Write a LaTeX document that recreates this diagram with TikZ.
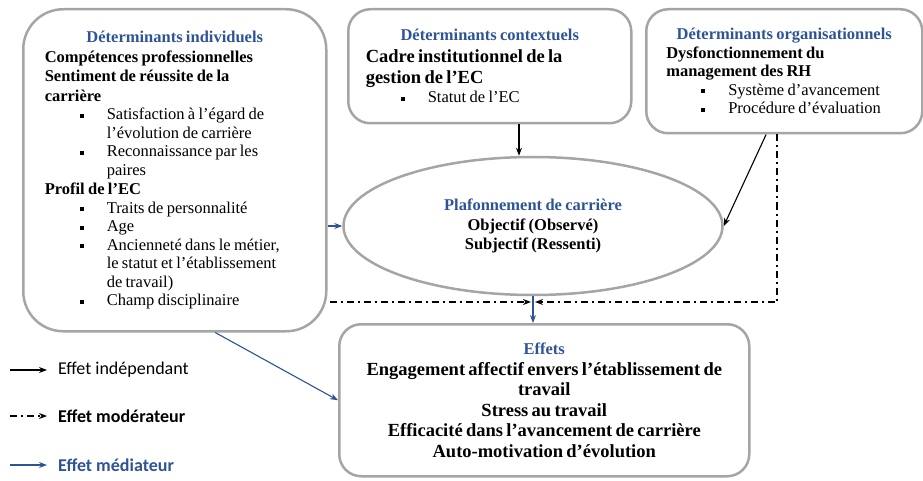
\documentclass[tikz,border=0pt]{standalone}
\usepackage{fontspec}
\setmainfont{Liberation Serif}
\newfontfamily\calibri{Carlito}
\usepackage{xcolor}
\usepackage{tikz}
\usetikzlibrary{shapes.geometric, positioning, arrows.meta}
\setlength{\parindent}{0pt}
\definecolor{bleu}{RGB}{47,84,150}
\definecolor{gris}{RGB}{165,165,165}
\newcommand{\titre}{\fontsize{16.5}{19}\selectfont\bfseries\color{bleu}}
\newcommand{\puce}{\hangindent=62pt\hangafter=1\noindent\hspace*{35pt}\makebox[27pt][l]{\rule[2pt]{4pt}{4pt}}}
\tikzstyle{boite} = [rectangle, rounded corners=22pt, draw=gris, line width=2.5pt, anchor=north west, align=left]
\tikzstyle{plafond} = [ellipse, draw=gris, line width=2.5pt, minimum width=379pt, minimum height=138pt, inner sep=0pt, align=center, text width=210pt]
\tikzstyle{independant} = [-{Stealth[length=8pt, width=6pt]}, line width=1.1pt, draw=black]
\tikzstyle{moderateur} = [-{Stealth[length=8pt, width=6pt]}, line width=1.4pt, dash pattern=on 7pt off 4pt on 2pt off 4pt]
\tikzstyle{mediateur} = [-{Stealth[length=8pt, width=6pt]}, line width=1.1pt, draw=bleu, fill=bleu]
\tikzstyle{legende} = [font=\calibri\fontsize{18}{21}\selectfont, inner sep=0pt]

\begin{document}
\begin{tikzpicture}[x=1pt, y=-1pt]
	\useasboundingbox (0,0) rectangle (923,481);
	\node (Individuels)[boite, rounded corners=40pt, minimum width=303pt, minimum height=322pt, text width=260pt] at (22,8) {%
		{\titre\centering Déterminants individuels\par}
		{\fontsize{16.5}{19.5}\selectfont\bfseries Compétences professionnelles\par
		Sentiment de réussite de la\newline carrière\par}
		{\fontsize{16.5}{18.5}\selectfont\puce Satisfaction à l’égard de\newline l’évolution de carrière\par
		\puce Reconnaissance par les\newline paires\par}
		{\fontsize{16.5}{19.5}\selectfont\bfseries Profil de l’EC\par}
		{\fontsize{16.5}{18.5}\selectfont\puce Traits de personnalité\par
		\puce Age\par
		\puce Ancienneté dans le métier,\newline le statut et l’établissement\newline de travail)\par
		\puce Champ disciplinaire\par}};
	\node (Contextuels)[boite, minimum width=283pt, minimum height=114pt, text width=248pt] at (347,8) {%
		{\titre\centering Déterminants contextuels\par}
		{\fontsize{18.5}{21.5}\selectfont\bfseries Cadre institutionnel de la\newline gestion de l’EC\par}
		{\fontsize{16.5}{19}\selectfont\puce Statut de l’EC\par}};
	\node (Organisationnels)[boite, minimum width=276pt, minimum height=124pt, text width=236pt] at (645,8) {%
		{\titre\centering Déterminants organisationnels\par}
		{\fontsize{16.5}{18.5}\selectfont\bfseries Dysfonctionnement du\newline management des RH\par}
		{\fontsize{16.5}{18.5}\selectfont\puce Système d’avancement\par
		\puce Procédure d’évaluation\par}};
	\node (Plafonnement)[plafond] at (533,226) {%
		{\titre Plafonnement de carrière\par}
		{\fontsize{16.5}{19.5}\selectfont\bfseries Objectif (Observé)\\
		Subjectif (Ressenti)\par}};
	\node (Effets)[boite, minimum width=410pt, minimum height=152pt, text width=395pt, align=center] at (338,323) {%
		{\titre Effets\par}
		{\fontsize{18.5}{20.5}\selectfont\bfseries Engagement affectif envers l’établissement de\\ travail\\
		Stress au travail\\
		Efficacité dans l’avancement de carrière\\
		Auto-motivation d’évolution\par}};
	\coordinate (Jonction) at (533,302);
	\coordinate (Coude) at (777,302);
	\draw [independant] ([xshift=-14pt]Contextuels.south -| Plafonnement.north) -- ([xshift=-14pt]Plafonnement.north);
	\draw [independant] (Organisationnels.-106) -- (Plafonnement.east);
	\draw [moderateur] ([xshift=2pt]Individuels.east |- Jonction) -- ([xshift=-2pt]Jonction);
	\draw [moderateur] (Organisationnels.south -| Coude) -- (Coude) -- ([xshift=2pt]Jonction);
	\draw [mediateur] (Individuels.east |- Plafonnement.west) -- (Plafonnement.west);
	\draw [mediateur] (Plafonnement.south) -- (Plafonnement.south |- Effets.north);
	\draw [mediateur] (Individuels.-76) -- (Effets.west);
	\coordinate (Indep debut) at (10,370);
	\coordinate (Indep fin) at (47,370);
	\coordinate (Moder debut) at (10,416);
	\coordinate (Moder fin) at (47,416);
	\coordinate (Media debut) at (10,465);
	\coordinate (Media fin) at (47,465);
	\draw [independant] (Indep debut) -- (Indep fin);
	\draw [moderateur] (Moder debut) -- (Moder fin);
	\draw [mediateur] (Media debut) -- (Media fin);
	\node (Indep)[legende, right = 11pt of Indep fin]{Effet indépendant};
	\node (Moder)[legende, right = 11pt of Moder fin]{\bfseries Effet modérateur};
	\node (Media)[legende, right = 11pt of Media fin, text=bleu]{\bfseries Effet médiateur};
\end{tikzpicture}
\end{document}
